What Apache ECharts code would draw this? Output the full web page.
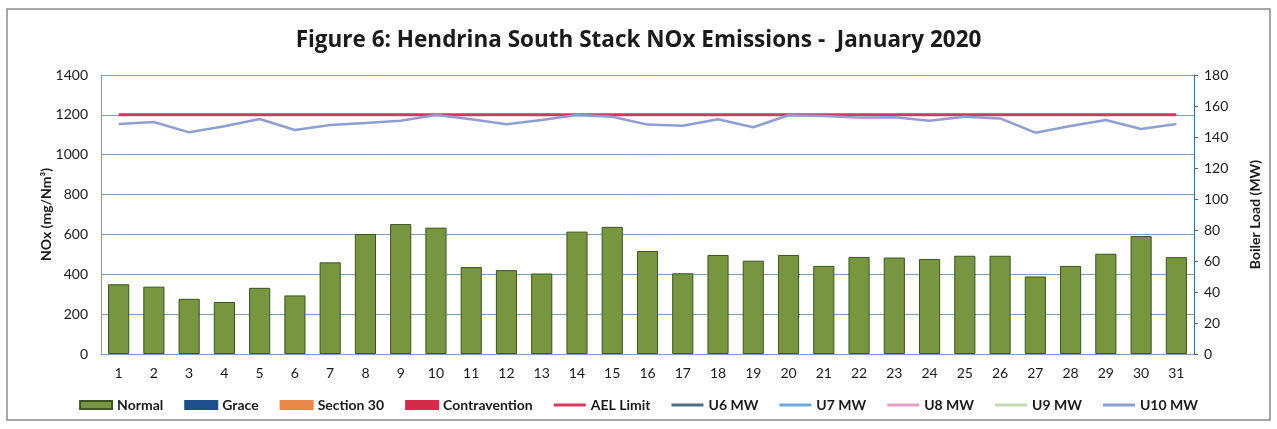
<!DOCTYPE html>
<html>
<head>
<meta charset="utf-8">
<script src="https://cdn.jsdelivr.net/npm/echarts@6/dist/echarts.min.js"></script>
<style>
html,body{margin:0;padding:0;background:#fff;}
#c{width:1277px;height:429px;}
</style>
</head>
<body>
<div id="c"></div>
<script>
const categories = ['1','2','3','4','5','6','7','8','9','10','11','12','13','14','15','16','17','18','19','20','21','22','23','24','25','26','27','28','29','30','31'];
const normal = [350,338,277,261,332,294,460,602,652,634,436,421,404,614,638,517,405,497,468,497,442,487,484,477,493,493,389,442,503,592,486];
const grace = [];
const section30 = [];
const contravention = [];
const aelLimit = [1200,1200,1200,1200,1200,1200,1200,1200,1200,1200,1200,1200,1200,1200,1200,1200,1200,1200,1200,1200,1200,1200,1200,1200,1200,1200,1200,1200,1200,1200,1200];
const u6 = [];
const u7 = [];
const u8 = [];
const u9 = [];
const u10 = [148.4,149.7,143,147,151.6,144.5,147.7,149,150.5,154.2,151.4,148.2,151,154.2,153.1,148,147.3,151.4,146.3,154,153.6,152.5,152.7,150.5,153.1,152,142.8,147.1,151,145.2,148.4];
const leftTicks = {min:0, max:1400, interval:200};
const rightTicks = {min:0, max:180, interval:20};

const FONT = 'Lato';
const chart = echarts.init(document.getElementById('c'), null, {renderer:'canvas'});
const gridColor = '#7f9fbf';
const LINE_ICON = 'path://M0,0 L30,0 L30,3 L0,3 Z';
const barSeries = (name, data, color, border) => ({
  name, type:'bar', stack:'s', data, barWidth:'60%',
  itemStyle:{color, borderColor:border, borderWidth:1}
});
const lineSeries = (name, data, color, width, yIdx) => ({
  name, type:'line', data, yAxisIndex:yIdx, symbol:'none', showSymbol:false,
  lineStyle:{color, width}, itemStyle:{color}, z:3
});
chart.setOption({
  animation:false,
  backgroundColor:'#fff',
  textStyle:{fontFamily:FONT},
  title:{
    text:'Figure 6: Hendrina South Stack NOx Emissions -  January 2020',
    left:'center', top:24,
    textStyle:{fontFamily:'Open Sans', fontSize:22.5, fontWeight:'bold', color:'#1a1a1a'}
  },
  graphic:[{
    type:'rect', shape:{x:7, y:9, width:1263, height:411},
    style:{fill:'none', stroke:'#8a8a8a', lineWidth:1.5}, silent:true, z:-1
  }],
  legend:{
    bottom:12, left:'center', itemGap:21, itemWidth:32, itemHeight:8,
    textStyle:{fontFamily:FONT, fontSize:14, fontWeight:'bold', color:'#1a1a1a'},
    data:[
      {name:'Normal', icon:'rect'},
      {name:'Grace', icon:'rect'},
      {name:'Section 30', icon:'rect'},
      {name:'Contravention', icon:'rect'},
      {name:'AEL Limit', icon:LINE_ICON},
      {name:'U6 MW', icon:LINE_ICON},
      {name:'U7 MW', icon:LINE_ICON},
      {name:'U8 MW', icon:LINE_ICON},
      {name:'U9 MW', icon:LINE_ICON},
      {name:'U10 MW', icon:LINE_ICON}
    ]
  },
  grid:{left:101, right:83, top:75, bottom:75},
  xAxis:{
    type:'category', data:categories,
    axisLine:{lineStyle:{color:gridColor, width:1}},
    axisTick:{show:false},
    axisLabel:{fontFamily:FONT, fontSize:14, color:'#1a1a1a', margin:12}
  },
  yAxis:[{
    type:'value', min:leftTicks.min, max:leftTicks.max, interval:leftTicks.interval,
    name:'NOx (mg/Nm³)', nameLocation:'middle', nameGap:48, nameRotate:90, nameMoveOverlap:false,
    nameTextStyle:{fontFamily:FONT, fontSize:14, fontWeight:'bold', color:'#1a1a1a'},
    axisLine:{show:true, lineStyle:{color:gridColor}},
    axisTick:{show:false},
    axisLabel:{fontFamily:FONT, fontSize:14, color:'#1a1a1a', margin:13, formatter:v => String(v)},
    splitLine:{lineStyle:{color:gridColor, width:1}}
  },{
    type:'value', min:rightTicks.min, max:rightTicks.max, interval:rightTicks.interval,
    position:'right',
    name:'Boiler Load (MW)', nameLocation:'middle', nameGap:54, nameRotate:90,
    nameTextStyle:{fontFamily:FONT, fontSize:14, fontWeight:'bold', color:'#1a1a1a'},
    axisLine:{show:true, lineStyle:{color:'#4a6a85'}},
    axisTick:{show:true, length:4, lineStyle:{color:'#4a6a85'}},
    axisLabel:{fontFamily:FONT, fontSize:14, color:'#1a1a1a', margin:10, formatter:v => String(v)},
    splitLine:{show:false}
  }],
  series:[
    barSeries('Normal', normal, '#77963f', '#3a5522'),
    barSeries('Grace', grace, '#1f4e8c', '#1f4e8c'),
    barSeries('Section 30', section30, '#e8894a', '#e8894a'),
    barSeries('Contravention', contravention, '#d42b4a', '#d42b4a'),
    lineSeries('AEL Limit', aelLimit, '#d8355f', 3, 0),
    lineSeries('U6 MW', u6, '#4f6f80', 2.5, 1),
    lineSeries('U7 MW', u7, '#6fa8dc', 2.5, 1),
    lineSeries('U8 MW', u8, '#e6a0c4', 2.5, 1),
    lineSeries('U9 MW', u9, '#c2dcb0', 2.5, 1),
    lineSeries('U10 MW', u10, '#8e9fd5', 2.5, 1)
  ]
});
</script>
</body>
</html>
